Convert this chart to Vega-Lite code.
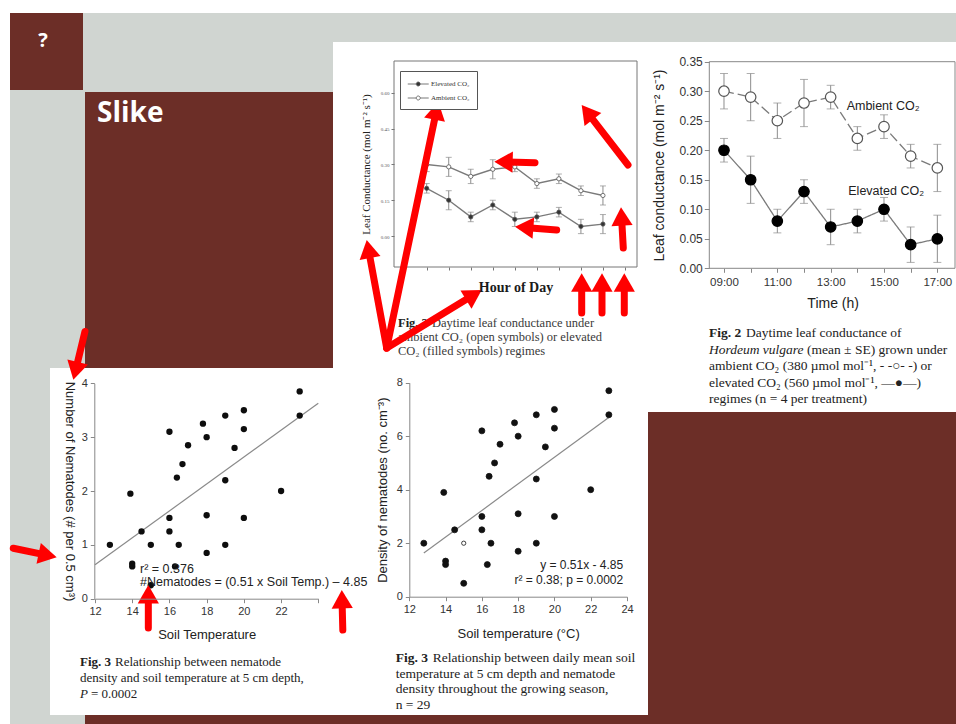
{
"$schema":"https://vega.github.io/schema/vega-lite/v6.json",
"width":946,"height":711,
"autosize":{"type":"none"},
"padding":{"left":10,"top":13,"right":0,"bottom":0},
"background":"#ffffff",
"config":{"view":{"fill":"#d0d5d1","stroke":null},"axis":{"grid":false,"labelFlush":false,"labelOverlap":false,"zindex":1}},
"datasets":{
"conductance":[
{"hour":9,"series":"Elevated CO₂","mean":0.20,"lo":0.18,"hi":0.22},
{"hour":10,"series":"Elevated CO₂","mean":0.15,"lo":0.11,"hi":0.19},
{"hour":11,"series":"Elevated CO₂","mean":0.08,"lo":0.06,"hi":0.10},
{"hour":12,"series":"Elevated CO₂","mean":0.13,"lo":0.11,"hi":0.15},
{"hour":13,"series":"Elevated CO₂","mean":0.07,"lo":0.04,"hi":0.10},
{"hour":14,"series":"Elevated CO₂","mean":0.08,"lo":0.06,"hi":0.10},
{"hour":15,"series":"Elevated CO₂","mean":0.10,"lo":0.08,"hi":0.12},
{"hour":16,"series":"Elevated CO₂","mean":0.04,"lo":0.01,"hi":0.07},
{"hour":17,"series":"Elevated CO₂","mean":0.05,"lo":0.01,"hi":0.09},
{"hour":9,"series":"Ambient CO₂","mean":0.30,"lo":0.27,"hi":0.33},
{"hour":10,"series":"Ambient CO₂","mean":0.29,"lo":0.25,"hi":0.33},
{"hour":11,"series":"Ambient CO₂","mean":0.25,"lo":0.22,"hi":0.28},
{"hour":12,"series":"Ambient CO₂","mean":0.28,"lo":0.24,"hi":0.32},
{"hour":13,"series":"Ambient CO₂","mean":0.29,"lo":0.27,"hi":0.31},
{"hour":14,"series":"Ambient CO₂","mean":0.22,"lo":0.20,"hi":0.24},
{"hour":15,"series":"Ambient CO₂","mean":0.24,"lo":0.22,"hi":0.26},
{"hour":16,"series":"Ambient CO₂","mean":0.19,"lo":0.17,"hi":0.21},
{"hour":17,"series":"Ambient CO₂","mean":0.17,"lo":0.13,"hi":0.21}
],
"nemBL":[
{"temp":12.8,"count":1.0},{"temp":13.9,"count":1.95},{"temp":14.0,"count":0.65},{"temp":14.0,"count":0.6},{"temp":14.5,"count":1.25},{"temp":15.0,"count":1.0},{"temp":15.0,"count":0.25},{"temp":16.0,"count":3.1},{"temp":16.0,"count":1.5},{"temp":16.0,"count":1.25},{"temp":16.3,"count":0.6},{"temp":16.4,"count":2.25},{"temp":16.5,"count":1.0},{"temp":16.7,"count":2.5},{"temp":17.0,"count":2.85},{"temp":17.8,"count":3.25},{"temp":18.0,"count":3.0},{"temp":18.0,"count":1.55},{"temp":18.0,"count":0.85},{"temp":19.0,"count":3.4},{"temp":19.0,"count":2.2},{"temp":19.0,"count":1.0},{"temp":19.5,"count":2.8},{"temp":20.0,"count":3.5},{"temp":20.0,"count":3.15},{"temp":20.0,"count":1.5},{"temp":22.0,"count":2.0},{"temp":23.0,"count":3.85},{"temp":23.0,"count":3.4}
],
"nemBR":[
{"temp":12.8,"density":2.0,"kind":"filled"},{"temp":13.9,"density":3.9,"kind":"filled"},{"temp":14.0,"density":1.33,"kind":"filled"},{"temp":14.0,"density":1.2,"kind":"filled"},{"temp":14.5,"density":2.5,"kind":"filled"},{"temp":15.0,"density":2.0,"kind":"open"},{"temp":15.0,"density":0.5,"kind":"filled"},{"temp":16.0,"density":6.2,"kind":"filled"},{"temp":16.0,"density":3.0,"kind":"filled"},{"temp":16.0,"density":2.5,"kind":"filled"},{"temp":16.3,"density":1.2,"kind":"filled"},{"temp":16.4,"density":4.5,"kind":"filled"},{"temp":16.5,"density":2.0,"kind":"filled"},{"temp":16.7,"density":5.0,"kind":"filled"},{"temp":17.0,"density":5.7,"kind":"filled"},{"temp":17.8,"density":6.5,"kind":"filled"},{"temp":18.0,"density":6.0,"kind":"filled"},{"temp":18.0,"density":3.1,"kind":"filled"},{"temp":18.0,"density":1.7,"kind":"filled"},{"temp":19.0,"density":6.8,"kind":"filled"},{"temp":19.0,"density":4.4,"kind":"filled"},{"temp":19.0,"density":2.0,"kind":"filled"},{"temp":19.5,"density":5.6,"kind":"filled"},{"temp":20.0,"density":7.0,"kind":"filled"},{"temp":20.0,"density":6.3,"kind":"filled"},{"temp":20.0,"density":3.0,"kind":"filled"},{"temp":22.0,"density":4.0,"kind":"filled"},{"temp":23.0,"density":7.7,"kind":"filled"},{"temp":23.0,"density":6.8,"kind":"filled"}
],
"arrowsTL":[
{"id":"A1","h0":7.185,"v0":-0.4697,"h1":9.441,"v1":0.5256,"heading":11.8},
{"id":"A2","h0":7.185,"v0":-0.4697,"h1":6.354,"v1":-0.0545,"heading":-10.5},
{"id":"A3","h0":7.185,"v0":-0.4697,"h1":11.140,"v1":-0.2466,"heading":58.6},
{"id":"A4","h0":18.138,"v0":0.2978,"h1":16.290,"v1":0.5188,"heading":-37.7},
{"id":"A5","h0":13.916,"v0":0.3075,"h1":12.486,"v1":0.3108,"heading":-88.6},
{"id":"A6","h0":14.901,"v0":0.0252,"h1":13.426,"v1":0.0361,"heading":-85.5},
{"id":"A7","h0":16.036,"v0":-0.3229,"h1":16.036,"v1":-0.195,"heading":0},
{"id":"A8","h0":16.957,"v0":-0.3229,"h1":16.957,"v1":-0.195,"heading":0},
{"id":"A9","h0":17.969,"v0":-0.3229,"h1":17.969,"v1":-0.195,"heading":0},
{"id":"A10","h0":17.924,"v0":-0.0503,"h1":17.843,"v1":0.0818,"heading":-3.3}
],
"arrowsBL":[
{"id":"B1","t0":11.462,"n0":4.963,"t1":10.952,"n1":4.230,"heading":-166.4},
{"id":"B2","t0":7.608,"n0":0.937,"t1":9.457,"n1":0.805,"heading":101.7},
{"id":"B3","t0":14.866,"n0":-0.545,"t1":14.866,"n1":0.0836,"heading":0},
{"id":"B4","t0":25.317,"n0":-0.582,"t1":25.274,"n1":-0.0093,"heading":-1.4}
]
},
"layer":[
{"data":{"values":[{"p":"box"}]},"mark":{"type":"rect","color":"#6c2e27"},
 "encoding":{"x":{"field":"p","type":"nominal","scale":{"type":"band","range":[0,73],"paddingInner":0,"paddingOuter":0},"axis":null},
 "y":{"field":"p","type":"nominal","scale":{"type":"band","range":[0,77],"paddingInner":0,"paddingOuter":0},"axis":null}}},
{"data":{"values":[{"p":"main"}]},"mark":{"type":"rect","color":"#6c2e27"},
 "encoding":{"x":{"field":"p","type":"nominal","scale":{"type":"band","range":[75,946],"paddingInner":0,"paddingOuter":0},"axis":null},
 "y":{"field":"p","type":"nominal","scale":{"type":"band","range":[79,711],"paddingInner":0,"paddingOuter":0},"axis":null}}},
{"data":{"values":[{"p":"top panel"}]},"mark":{"type":"rect","color":"#ffffff"},
 "encoding":{"x":{"field":"p","type":"nominal","scale":{"type":"band","range":[323,946],"paddingInner":0,"paddingOuter":0},"axis":null},
 "y":{"field":"p","type":"nominal","scale":{"type":"band","range":[29,399],"paddingInner":0,"paddingOuter":0},"axis":null}}},
{"data":{"values":[{"p":"bottom panel"}]},"mark":{"type":"rect","color":"#ffffff"},
 "encoding":{"x":{"field":"p","type":"nominal","scale":{"type":"band","range":[40,638],"paddingInner":0,"paddingOuter":0},"axis":null},
 "y":{"field":"p","type":"nominal","scale":{"type":"band","range":[355,702],"paddingInner":0,"paddingOuter":0},"axis":null}}},
{"data":{"values":[{"t":"?"}]},"mark":{"type":"text","color":"#ffffff","font":"Open Sans","fontSize":20,"fontWeight":"bold","align":"center","baseline":"middle"},
 "encoding":{"x":{"field":"t","type":"nominal","scale":{"type":"band","range":[0,66],"paddingInner":0,"paddingOuter":0},"axis":null},
 "y":{"field":"t","type":"nominal","scale":{"type":"band","range":[0,56],"paddingInner":0,"paddingOuter":0},"axis":null},
 "text":{"field":"t","type":"nominal"}}},
{"data":{"values":[{"t":"Slike"}]},"mark":{"type":"text","color":"#ffffff","font":"Open Sans","fontSize":28,"fontWeight":"bold","align":"left","baseline":"alphabetic"},
 "encoding":{"x":{"field":"t","type":"nominal","bandPosition":0,"scale":{"type":"band","range":[87,300],"paddingInner":0,"paddingOuter":0},"axis":null},
 "y":{"field":"t","type":"nominal","bandPosition":0,"scale":{"type":"band","range":[109,110],"paddingInner":0,"paddingOuter":0},"axis":null},
 "text":{"field":"t","type":"nominal"}}},
{"data":{"values":[{"p":"frame TL"}]},"mark":{"type":"rect","filled":false,"stroke":"#777777","strokeWidth":1},
 "encoding":{"x":{"field":"p","type":"nominal","scale":{"type":"band","range":[384,627],"paddingInner":0,"paddingOuter":0},"axis":null},
 "y":{"field":"p","type":"nominal","scale":{"type":"band","range":[48,254],"paddingInner":0,"paddingOuter":0},"axis":null}}},
{"data":{"values":[{"p":"frame TR"}]},"mark":{"type":"rect","filled":false,"stroke":"#888888","strokeWidth":1},
 "encoding":{"x":{"field":"p","type":"nominal","scale":{"type":"band","range":[699.3,945],"paddingInner":0,"paddingOuter":0},"axis":null},
 "y":{"field":"p","type":"nominal","scale":{"type":"band","range":[48.7,255.3],"paddingInner":0,"paddingOuter":0},"axis":null}}},
{"layer":[
 {"data":{"values":[{"f":"c","line":1,"text":"Fig. 2"}]},"mark":{"type":"text","align":"left","baseline":"middle","font":"Liberation Serif","fontSize":12.5,"fontWeight":"bold","color":"#222222"},
  "encoding":{"x":{"field":"f","type":"nominal","bandPosition":0,"scale":{"type":"band","domain":["c"],"range":[388,640],"paddingInner":0,"paddingOuter":0},"axis":null},"y":{"field":"line","type":"ordinal","scale":{"type":"point","domain":[1,2,3],"range":[310,338],"padding":0},"axis":null},"text":{"field":"text","type":"nominal"}}},
 {"data":{"values":[{"f":"c","line":1,"text":"Daytime leaf conductance under"}]},"mark":{"type":"text","align":"left","baseline":"middle","font":"Liberation Serif","fontSize":12.5,"color":"#3a3a3a","dx":34},
  "encoding":{"x":{"field":"f","type":"nominal","bandPosition":0,"scale":{"type":"band","domain":["c"],"range":[388,640],"paddingInner":0,"paddingOuter":0},"axis":null},"y":{"field":"line","type":"ordinal","scale":{"type":"point","domain":[1,2,3],"range":[310,338],"padding":0},"axis":null},"text":{"field":"text","type":"nominal"}}},
 {"data":{"values":[{"f":"c","line":2,"text":"ambient CO₂ (open symbols) or elevated"},{"f":"c","line":3,"text":"CO₂ (filled symbols) regimes"}]},"mark":{"type":"text","align":"left","baseline":"middle","font":"Liberation Serif","fontSize":12.5,"color":"#3a3a3a"},
  "encoding":{"x":{"field":"f","type":"nominal","bandPosition":0,"scale":{"type":"band","domain":["c"],"range":[388,640],"paddingInner":0,"paddingOuter":0},"axis":null},"y":{"field":"line","type":"ordinal","scale":{"type":"point","domain":[1,2,3],"range":[310,338],"padding":0},"axis":null},"text":{"field":"text","type":"nominal"}}}
]},
{"layer":[
 {"data":{"values":[{"f":"c","line":1,"text":"Fig. 2"}]},"mark":{"type":"text","align":"left","baseline":"middle","font":"Liberation Serif","fontSize":13.5,"fontWeight":"bold","color":"#222222"},
  "encoding":{"x":{"field":"f","type":"nominal","bandPosition":0,"scale":{"type":"band","domain":["c"],"range":[699,946],"paddingInner":0,"paddingOuter":0},"axis":null},"y":{"field":"line","type":"ordinal","scale":{"type":"point","domain":[1,2,3,4,5],"range":[320.3,386.3],"padding":0},"axis":null},"text":{"field":"text","type":"nominal"}}},
 {"data":{"values":[{"f":"c","line":2,"text":"Hordeum vulgare"}]},"mark":{"type":"text","align":"left","baseline":"middle","font":"Liberation Serif","fontSize":13.5,"fontStyle":"italic","color":"#222222"},
  "encoding":{"x":{"field":"f","type":"nominal","bandPosition":0,"scale":{"type":"band","domain":["c"],"range":[699,946],"paddingInner":0,"paddingOuter":0},"axis":null},"y":{"field":"line","type":"ordinal","scale":{"type":"point","domain":[1,2,3,4,5],"range":[320.3,386.3],"padding":0},"axis":null},"text":{"field":"text","type":"nominal"}}},
 {"data":{"values":[{"f":"c","line":1,"text":"Daytime leaf conductance of"}]},"mark":{"type":"text","align":"left","baseline":"middle","font":"Liberation Serif","fontSize":13.5,"color":"#222222","dx":37},
  "encoding":{"x":{"field":"f","type":"nominal","bandPosition":0,"scale":{"type":"band","domain":["c"],"range":[699,946],"paddingInner":0,"paddingOuter":0},"axis":null},"y":{"field":"line","type":"ordinal","scale":{"type":"point","domain":[1,2,3,4,5],"range":[320.3,386.3],"padding":0},"axis":null},"text":{"field":"text","type":"nominal"}}},
 {"data":{"values":[{"f":"c","line":2,"text":"(mean ± SE) grown under"}]},"mark":{"type":"text","align":"left","baseline":"middle","font":"Liberation Serif","fontSize":13.5,"color":"#222222","dx":98},
  "encoding":{"x":{"field":"f","type":"nominal","bandPosition":0,"scale":{"type":"band","domain":["c"],"range":[699,946],"paddingInner":0,"paddingOuter":0},"axis":null},"y":{"field":"line","type":"ordinal","scale":{"type":"point","domain":[1,2,3,4,5],"range":[320.3,386.3],"padding":0},"axis":null},"text":{"field":"text","type":"nominal"}}},
 {"data":{"values":[{"f":"c","line":3,"text":"ambient CO₂ (380 µmol mol⁻¹, - -○- -) or"},{"f":"c","line":4,"text":"elevated CO₂ (560 µmol mol⁻¹, —●—)"},{"f":"c","line":5,"text":"regimes (n = 4 per treatment)"}]},"mark":{"type":"text","align":"left","baseline":"middle","font":"Liberation Serif","fontSize":13.5,"color":"#222222"},
  "encoding":{"x":{"field":"f","type":"nominal","bandPosition":0,"scale":{"type":"band","domain":["c"],"range":[699,946],"paddingInner":0,"paddingOuter":0},"axis":null},"y":{"field":"line","type":"ordinal","scale":{"type":"point","domain":[1,2,3,4,5],"range":[320.3,386.3],"padding":0},"axis":null},"text":{"field":"text","type":"nominal"}}}
]},
{"layer":[
 {"data":{"values":[{"f":"c","line":1,"text":"Fig. 3"}]},"mark":{"type":"text","align":"left","baseline":"middle","font":"Liberation Serif","fontSize":13,"fontWeight":"bold","color":"#222222"},
  "encoding":{"x":{"field":"f","type":"nominal","bandPosition":0,"scale":{"type":"band","domain":["c"],"range":[70,340],"paddingInner":0,"paddingOuter":0},"axis":null},"y":{"field":"line","type":"ordinal","scale":{"type":"point","domain":[1,2,3],"range":[648.7,681],"padding":0},"axis":null},"text":{"field":"text","type":"nominal"}}},
 {"data":{"values":[{"f":"c","line":3,"text":"P"}]},"mark":{"type":"text","align":"left","baseline":"middle","font":"Liberation Serif","fontSize":13,"fontStyle":"italic","color":"#222222"},
  "encoding":{"x":{"field":"f","type":"nominal","bandPosition":0,"scale":{"type":"band","domain":["c"],"range":[70,340],"paddingInner":0,"paddingOuter":0},"axis":null},"y":{"field":"line","type":"ordinal","scale":{"type":"point","domain":[1,2,3],"range":[648.7,681],"padding":0},"axis":null},"text":{"field":"text","type":"nominal"}}},
 {"data":{"values":[{"f":"c","line":1,"text":"Relationship between nematode"}]},"mark":{"type":"text","align":"left","baseline":"middle","font":"Liberation Serif","fontSize":13,"color":"#222222","dx":35},
  "encoding":{"x":{"field":"f","type":"nominal","bandPosition":0,"scale":{"type":"band","domain":["c"],"range":[70,340],"paddingInner":0,"paddingOuter":0},"axis":null},"y":{"field":"line","type":"ordinal","scale":{"type":"point","domain":[1,2,3],"range":[648.7,681],"padding":0},"axis":null},"text":{"field":"text","type":"nominal"}}},
 {"data":{"values":[{"f":"c","line":3,"text":"= 0.0002"}]},"mark":{"type":"text","align":"left","baseline":"middle","font":"Liberation Serif","fontSize":13,"color":"#222222","dx":11},
  "encoding":{"x":{"field":"f","type":"nominal","bandPosition":0,"scale":{"type":"band","domain":["c"],"range":[70,340],"paddingInner":0,"paddingOuter":0},"axis":null},"y":{"field":"line","type":"ordinal","scale":{"type":"point","domain":[1,2,3],"range":[648.7,681],"padding":0},"axis":null},"text":{"field":"text","type":"nominal"}}},
 {"data":{"values":[{"f":"c","line":2,"text":"density and soil temperature at 5 cm depth,"}]},"mark":{"type":"text","align":"left","baseline":"middle","font":"Liberation Serif","fontSize":13,"color":"#222222"},
  "encoding":{"x":{"field":"f","type":"nominal","bandPosition":0,"scale":{"type":"band","domain":["c"],"range":[70,340],"paddingInner":0,"paddingOuter":0},"axis":null},"y":{"field":"line","type":"ordinal","scale":{"type":"point","domain":[1,2,3],"range":[648.7,681],"padding":0},"axis":null},"text":{"field":"text","type":"nominal"}}}
]},
{"layer":[
 {"data":{"values":[{"f":"c","line":1,"text":"Fig. 3"}]},"mark":{"type":"text","align":"left","baseline":"middle","font":"Liberation Serif","fontSize":13.5,"fontWeight":"bold","color":"#222222"},
  "encoding":{"x":{"field":"f","type":"nominal","bandPosition":0,"scale":{"type":"band","domain":["c"],"range":[385.7,640],"paddingInner":0,"paddingOuter":0},"axis":null},"y":{"field":"line","type":"ordinal","scale":{"type":"point","domain":[1,2,3,4],"range":[645.3,692],"padding":0},"axis":null},"text":{"field":"text","type":"nominal"}}},
 {"data":{"values":[{"f":"c","line":1,"text":"Relationship between daily mean soil"}]},"mark":{"type":"text","align":"left","baseline":"middle","font":"Liberation Serif","fontSize":13.5,"color":"#222222","dx":37},
  "encoding":{"x":{"field":"f","type":"nominal","bandPosition":0,"scale":{"type":"band","domain":["c"],"range":[385.7,640],"paddingInner":0,"paddingOuter":0},"axis":null},"y":{"field":"line","type":"ordinal","scale":{"type":"point","domain":[1,2,3,4],"range":[645.3,692],"padding":0},"axis":null},"text":{"field":"text","type":"nominal"}}},
 {"data":{"values":[{"f":"c","line":2,"text":"temperature at 5 cm depth and nematode"},{"f":"c","line":3,"text":"density throughout the growing season,"},{"f":"c","line":4,"text":"n = 29"}]},"mark":{"type":"text","align":"left","baseline":"middle","font":"Liberation Serif","fontSize":13.5,"color":"#222222"},
  "encoding":{"x":{"field":"f","type":"nominal","bandPosition":0,"scale":{"type":"band","domain":["c"],"range":[385.7,640],"paddingInner":0,"paddingOuter":0},"axis":null},"y":{"field":"line","type":"ordinal","scale":{"type":"point","domain":[1,2,3,4],"range":[645.3,692],"padding":0},"axis":null},"text":{"field":"text","type":"nominal"}}}
]},
{"layer":[
 {"data":{"name":"conductance"},"mark":{"type":"rule","color":"#8c8c8c","strokeWidth":1},
  "encoding":{"x":{"field":"hour","type":"quantitative","scale":{"domain":[8.449,17.70],"range":[699.3,946],"nice":false,"zero":false},
    "axis":{"orient":"bottom","offset":-455.7,"zindex":1,"values":[9,10,11,12,13,14,15,16,17],"labelExpr":"datum.value % 2 == 1 ? (datum.value < 10 ? '0' : '') + datum.value + ':00' : ''","tickSize":4,"tickColor":"#888888","domain":false,"labelFont":"Liberation Sans","labelFontSize":11.5,"labelColor":"#333333","labelPadding":4,"title":"Time (h)","titleFont":"Liberation Sans","titleFontSize":14,"titleFontWeight":"normal","titleColor":"#222222","titlePadding":9}},
   "y":{"field":"lo","type":"quantitative","scale":{"domain":[0,0.35],"range":[255.3,48.7],"nice":false,"zero":false},
    "axis":{"orient":"left","offset":-699.3,"zindex":1,"values":[0,0.05,0.1,0.15,0.2,0.25,0.3,0.35],"format":".2f","tickSize":5,"tickColor":"#888888","domain":false,"labelFont":"Liberation Sans","labelFontSize":12,"labelColor":"#333333","labelPadding":2,"title":"Leaf conductance (mol m⁻² s⁻¹)","titleFont":"Liberation Sans","titleFontSize":14,"titleFontWeight":"normal","titleColor":"#222222","titlePadding":12}},
   "y2":{"field":"hi"}}},
 {"data":{"name":"conductance"},"mark":{"type":"tick","orient":"horizontal","size":8,"thickness":1,"color":"#8c8c8c"},
  "encoding":{"x":{"field":"hour","type":"quantitative","scale":{"domain":[8.449,17.70],"range":[699.3,946],"nice":false,"zero":false}},
   "y":{"field":"lo","type":"quantitative","scale":{"domain":[0,0.35],"range":[255.3,48.7],"nice":false,"zero":false}}}},
 {"data":{"name":"conductance"},"mark":{"type":"tick","orient":"horizontal","size":8,"thickness":1,"color":"#8c8c8c"},
  "encoding":{"x":{"field":"hour","type":"quantitative","scale":{"domain":[8.449,17.70],"range":[699.3,946],"nice":false,"zero":false}},
   "y":{"field":"hi","type":"quantitative","scale":{"domain":[0,0.35],"range":[255.3,48.7],"nice":false,"zero":false}}}},
 {"data":{"name":"conductance"},"mark":{"type":"line","color":"#7a7a7a","strokeWidth":1.3},
  "encoding":{"x":{"field":"hour","type":"quantitative","scale":{"domain":[8.449,17.70],"range":[699.3,946],"nice":false,"zero":false}},
   "y":{"field":"mean","type":"quantitative","scale":{"domain":[0,0.35],"range":[255.3,48.7],"nice":false,"zero":false}},
   "strokeDash":{"field":"series","type":"nominal","scale":{"domain":["Elevated CO₂","Ambient CO₂"],"range":[[1,0],[10,4]]},"legend":null}}},
 {"data":{"name":"conductance"},"mark":{"type":"point","filled":true,"size":110,"strokeWidth":1.2,"opacity":1},
  "encoding":{"x":{"field":"hour","type":"quantitative","scale":{"domain":[8.449,17.70],"range":[699.3,946],"nice":false,"zero":false}},
   "y":{"field":"mean","type":"quantitative","scale":{"domain":[0,0.35],"range":[255.3,48.7],"nice":false,"zero":false}},
   "fill":{"field":"series","type":"nominal","scale":{"domain":["Elevated CO₂","Ambient CO₂"],"range":["#000000","#ffffff"]},"legend":null},
   "stroke":{"field":"series","type":"nominal","scale":{"domain":["Elevated CO₂","Ambient CO₂"],"range":["#000000","#555555"]},"legend":null}}},
 {"data":{"values":[{"label":"Ambient CO₂","hour":13.60,"value":0.2751},{"label":"Elevated CO₂","hour":13.66,"value":0.1315}]},"mark":{"type":"text","align":"left","baseline":"middle","font":"Liberation Sans","fontSize":12.5,"color":"#222222"},
  "encoding":{"x":{"field":"hour","type":"quantitative","scale":{"domain":[8.449,17.70],"range":[699.3,946],"nice":false,"zero":false}},
   "y":{"field":"value","type":"quantitative","scale":{"domain":[0,0.35],"range":[255.3,48.7],"nice":false,"zero":false}},
   "text":{"field":"label","type":"nominal"}}}
]},
{"layer":[
 {"data":{"values":[{"temp":12.8,"density":1.63},{"temp":23.05,"density":6.73}]},"mark":{"type":"line","color":"#8a8a8a","strokeWidth":1.2},
  "encoding":{"x":{"field":"temp","type":"quantitative","scale":{"domain":[12,24],"range":[399.3,617],"nice":false,"zero":false},
    "axis":{"orient":"bottom","offset":-127.3,"zindex":1,"values":[12,14,16,18,20,22,24],"format":"d","tickSize":4,"tickColor":"#888888","domainColor":"#888888","labelFont":"Liberation Sans","labelFontSize":11,"labelColor":"#333333","labelPadding":3,"title":"Soil temperature (°C)","titleFont":"Liberation Sans","titleFontSize":13,"titleFontWeight":"normal","titleColor":"#222222","titlePadding":13}},
   "y":{"field":"density","type":"quantitative","scale":{"domain":[0,8],"range":[583.7,369.7],"nice":false,"zero":false},
    "axis":{"orient":"left","offset":-399.3,"zindex":1,"values":[0,2,4,6,8],"format":"d","tickSize":4,"tickColor":"#888888","domainColor":"#888888","labelFont":"Liberation Sans","labelFontSize":11,"labelColor":"#333333","labelPadding":3,"title":"Density of nematodes (no. cm⁻³)","titleFont":"Liberation Sans","titleFontSize":13,"titleFontWeight":"normal","titleColor":"#222222","titlePadding":7}}}},
 {"data":{"name":"nemBR"},"mark":{"type":"point","filled":true,"strokeWidth":0.8,"opacity":1,"stroke":"#111111"},
  "encoding":{"x":{"field":"temp","type":"quantitative","scale":{"domain":[12,24],"range":[399.3,617],"nice":false,"zero":false}},
   "y":{"field":"density","type":"quantitative","scale":{"domain":[0,8],"range":[583.7,369.7],"nice":false,"zero":false}},
   "fill":{"field":"kind","type":"nominal","scale":{"domain":["filled","open"],"range":["#111111","#ffffff"]},"legend":null},
   "size":{"field":"kind","type":"nominal","scale":{"domain":["filled","open"],"range":[36,18]},"legend":null}}},
 {"data":{"values":[{"text":"y = 0.51x - 4.85","temp":23.79,"density":1.185},{"text":"r² = 0.38; p = 0.0002","temp":23.79,"density":0.624}]},"mark":{"type":"text","align":"right","baseline":"middle","font":"Liberation Sans","fontSize":12,"color":"#222222"},
  "encoding":{"x":{"field":"temp","type":"quantitative","scale":{"domain":[12,24],"range":[399.3,617],"nice":false,"zero":false}},
   "y":{"field":"density","type":"quantitative","scale":{"domain":[0,8],"range":[583.7,369.7],"nice":false,"zero":false}},
   "text":{"field":"text","type":"nominal"}}}
]},
{"layer":[
 {"data":{"name":"conductance"},"mark":{"type":"rule","color":"#8c8c8c","strokeWidth":1},
  "encoding":{"x":{"field":"hour","type":"quantitative","scale":{"domain":[7.516,18.546],"range":[384,627],"nice":false,"zero":false},
    "axis":{"orient":"bottom","offset":-457,"zindex":1,"values":[9,10,11,12,13,14,15,16,17,18],"labels":false,"tickSize":3,"tickColor":"#777777","domain":false,"title":"Hour of Day","titleFont":"Liberation Serif","titleFontSize":14,"titleFontWeight":"bold","titleColor":"#1a1a1a","titlePadding":10}},
   "y":{"field":"lo","type":"quantitative","scale":{"domain":[-0.13,0.734],"range":[254,48],"nice":false,"zero":false},
    "axis":{"orient":"left","offset":-384,"zindex":1,"values":[0,0.15,0.3,0.45,0.6],"format":".2f","labelFont":"Liberation Serif","labelFontSize":5,"labelColor":"#555555","labelPadding":2,"tickSize":3,"tickColor":"#777777","domain":false,"title":"Leaf Conductance (mol m⁻² s⁻¹)","titleFont":"Liberation Serif","titleFontSize":11,"titleFontWeight":"normal","titleColor":"#222222","titlePadding":9}},
   "y2":{"field":"hi"}}},
 {"data":{"name":"conductance"},"mark":{"type":"tick","orient":"horizontal","size":6,"thickness":1,"color":"#8c8c8c"},
  "encoding":{"x":{"field":"hour","type":"quantitative","scale":{"domain":[7.516,18.546],"range":[384,627],"nice":false,"zero":false}},
   "y":{"field":"lo","type":"quantitative","scale":{"domain":[-0.13,0.734],"range":[254,48],"nice":false,"zero":false}}}},
 {"data":{"name":"conductance"},"mark":{"type":"tick","orient":"horizontal","size":6,"thickness":1,"color":"#8c8c8c"},
  "encoding":{"x":{"field":"hour","type":"quantitative","scale":{"domain":[7.516,18.546],"range":[384,627],"nice":false,"zero":false}},
   "y":{"field":"hi","type":"quantitative","scale":{"domain":[-0.13,0.734],"range":[254,48],"nice":false,"zero":false}}}},
 {"data":{"name":"conductance"},"mark":{"type":"line","color":"#7a7a7a","strokeWidth":1.4},
  "encoding":{"x":{"field":"hour","type":"quantitative","scale":{"domain":[7.516,18.546],"range":[384,627],"nice":false,"zero":false}},
   "y":{"field":"mean","type":"quantitative","scale":{"domain":[-0.13,0.734],"range":[254,48],"nice":false,"zero":false}},
   "detail":{"field":"series","type":"nominal"}}},
 {"data":{"name":"conductance"},"mark":{"type":"point","filled":true,"size":18,"stroke":"#555555","strokeWidth":0.8,"opacity":1},
  "encoding":{"x":{"field":"hour","type":"quantitative","scale":{"domain":[7.516,18.546],"range":[384,627],"nice":false,"zero":false}},
   "y":{"field":"mean","type":"quantitative","scale":{"domain":[-0.13,0.734],"range":[254,48],"nice":false,"zero":false}},
   "fill":{"field":"series","type":"nominal","scale":{"domain":["Elevated CO₂","Ambient CO₂"],"range":["#333333","#ffffff"]},
    "legend":{"orient":"none","legendX":390,"legendY":58,"title":null,"direction":"vertical","fillColor":"#ffffff","strokeColor":"#555555","padding":7,"rowPadding":4,"symbolType":"M-1,0H0.62M1.38,0H3M1.38,0A0.38,0.38,0,1,1,0.62,0A0.38,0.38,0,1,1,1.38,0Z","symbolSize":110,"symbolStrokeColor":"#555555","symbolStrokeWidth":0.8,"labelFont":"Liberation Serif","labelFontSize":7,"labelColor":"#333333","labelOffset":12}}}},
 {"data":{"name":"arrowsTL"},"mark":{"type":"rule","color":"#ff0000","strokeWidth":7,"strokeCap":"round"},
  "encoding":{"x":{"field":"h0","type":"quantitative","scale":{"domain":[7.516,18.546],"range":[384,627],"nice":false,"zero":false}},
   "y":{"field":"v0","type":"quantitative","scale":{"domain":[-0.13,0.734],"range":[254,48],"nice":false,"zero":false}},
   "x2":{"field":"h1"},"y2":{"field":"v1"}}},
 {"data":{"name":"arrowsTL"},"mark":{"type":"point","shape":"triangle-up","filled":true,"color":"#ff0000","size":450,"opacity":1,"strokeWidth":0},
  "encoding":{"x":{"field":"h1","type":"quantitative","scale":{"domain":[7.516,18.546],"range":[384,627],"nice":false,"zero":false}},
   "y":{"field":"v1","type":"quantitative","scale":{"domain":[-0.13,0.734],"range":[254,48],"nice":false,"zero":false}},
   "angle":{"field":"heading","type":"quantitative","scale":null}}}
]},
{"layer":[
 {"data":{"values":[{"temp":12,"count":0.63},{"temp":24,"count":3.63}]},"mark":{"type":"line","color":"#8a8a8a","strokeWidth":1.2},
  "encoding":{"x":{"field":"temp","type":"quantitative","scale":{"domain":[12,24],"range":[85,308.3],"nice":false,"zero":false},
    "axis":{"orient":"bottom","offset":-125.3,"zindex":1,"values":[12,14,16,18,20,22,24],"format":"d","labelExpr":"datum.value == 24 ? '' : datum.label","tickSize":4,"tickColor":"#888888","domainColor":"#888888","labelFont":"Liberation Sans","labelFontSize":11,"labelColor":"#333333","labelPadding":3,"title":"Soil Temperature","titleFont":"Liberation Sans","titleFontSize":13,"titleFontWeight":"normal","titleColor":"#222222","titlePadding":12}},
   "y":{"field":"count","type":"quantitative","scale":{"domain":[0,4],"range":[585.7,370.3],"nice":false,"zero":false},
    "axis":{"orient":"left","offset":-84.3,"zindex":1,"values":[0,1,2,3,4],"format":"d","tickSize":4,"tickColor":"#888888","domainColor":"#888888","labelFont":"Liberation Sans","labelFontSize":11,"labelColor":"#333333","labelPadding":3,"title":"Number of Nematodes (# per 0.5 cm³)","titleAngle":90,"titleBaseline":"top","titleFont":"Liberation Sans","titleFontSize":13,"titleFontWeight":"normal","titleColor":"#222222","titlePadding":6}}}},
 {"data":{"name":"nemBL"},"mark":{"type":"circle","size":40,"color":"#0d0d0d","opacity":1},
  "encoding":{"x":{"field":"temp","type":"quantitative","scale":{"domain":[12,24],"range":[85,308.3],"nice":false,"zero":false}},
   "y":{"field":"count","type":"quantitative","scale":{"domain":[0,4],"range":[585.7,370.3],"nice":false,"zero":false}}}},
 {"data":{"values":[{"text":"r² = 0.376","temp":14.42,"count":0.546},{"text":"#Nematodes = (0.51 x Soil Temp.) – 4.85","temp":14.42,"count":0.305}]},"mark":{"type":"text","align":"left","baseline":"middle","font":"Liberation Sans","fontSize":12.5,"color":"#222222"},
  "encoding":{"x":{"field":"temp","type":"quantitative","scale":{"domain":[12,24],"range":[85,308.3],"nice":false,"zero":false}},
   "y":{"field":"count","type":"quantitative","scale":{"domain":[0,4],"range":[585.7,370.3],"nice":false,"zero":false}},
   "text":{"field":"text","type":"nominal"}}},
 {"data":{"name":"arrowsBL"},"mark":{"type":"rule","color":"#ff0000","strokeWidth":7,"strokeCap":"round"},
  "encoding":{"x":{"field":"t0","type":"quantitative","scale":{"domain":[12,24],"range":[85,308.3],"nice":false,"zero":false}},
   "y":{"field":"n0","type":"quantitative","scale":{"domain":[0,4],"range":[585.7,370.3],"nice":false,"zero":false}},
   "x2":{"field":"t1"},"y2":{"field":"n1"}}},
 {"data":{"name":"arrowsBL"},"mark":{"type":"point","shape":"triangle-up","filled":true,"color":"#ff0000","size":450,"opacity":1,"strokeWidth":0},
  "encoding":{"x":{"field":"t1","type":"quantitative","scale":{"domain":[12,24],"range":[85,308.3],"nice":false,"zero":false}},
   "y":{"field":"n1","type":"quantitative","scale":{"domain":[0,4],"range":[585.7,370.3],"nice":false,"zero":false}},
   "angle":{"field":"heading","type":"quantitative","scale":null}}}
]}
],
"resolve":{"scale":{"x":"independent","y":"independent","fill":"independent","stroke":"independent","strokeDash":"independent","size":"independent","angle":"independent"},"axis":{"x":"independent","y":"independent"},"legend":{"fill":"independent"}}
}
